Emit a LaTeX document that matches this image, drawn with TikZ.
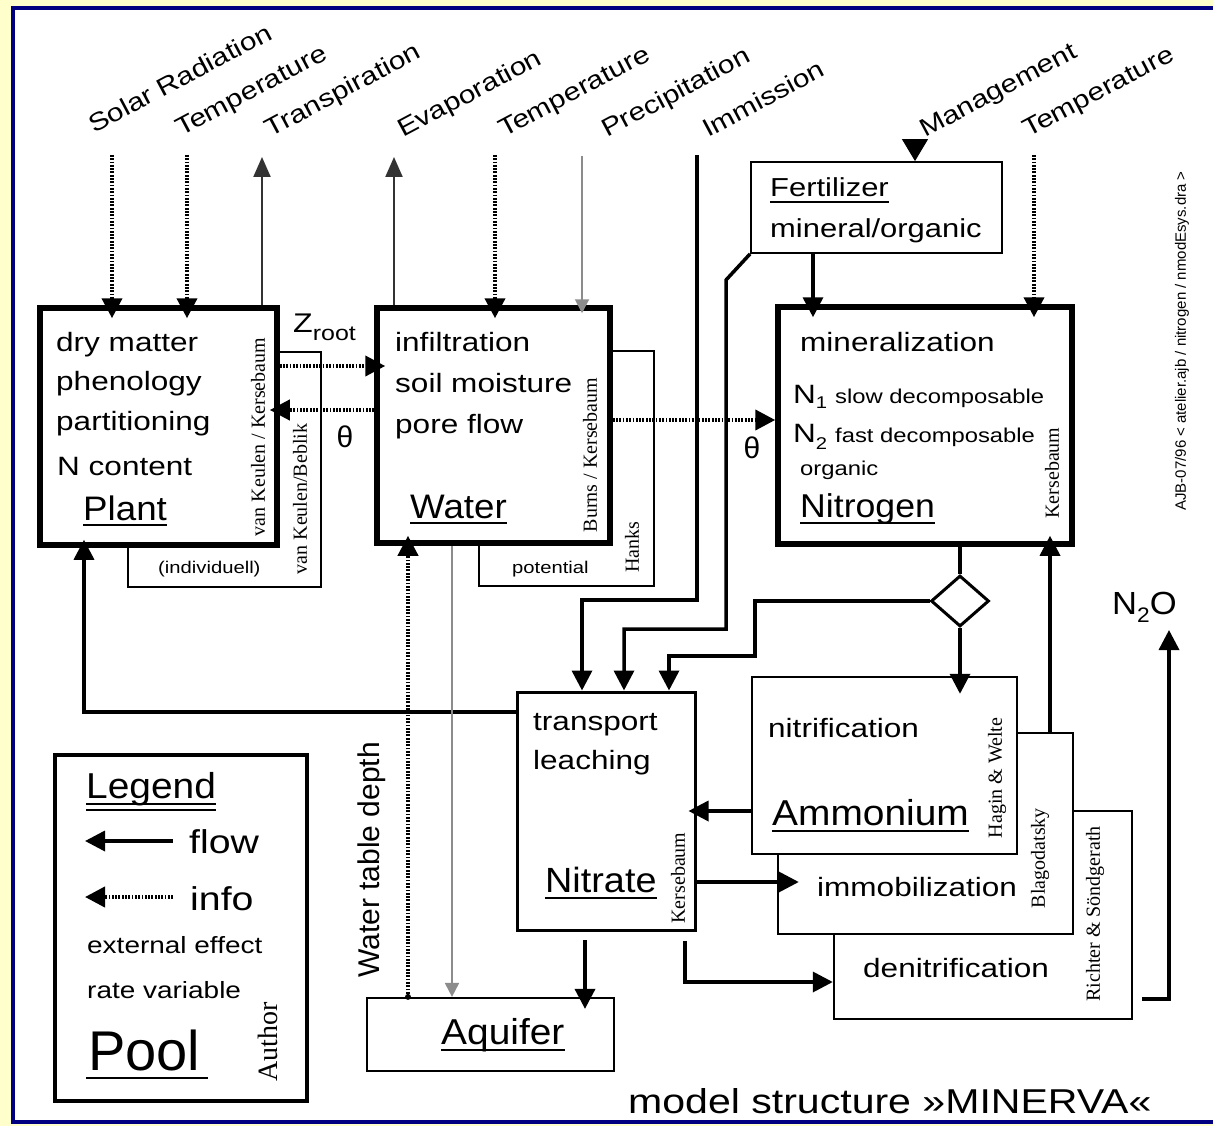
\documentclass[tikz,border=0pt]{standalone}
\usepackage{fontspec}
\setmainfont{Liberation Sans}
\newfontfamily\bodyf[FakeStretch=1.19]{Liberation Sans}
\newfontfamily\poolf[FakeStretch=1.08]{Liberation Sans}
\newfontfamily\authf{Liberation Serif}
\usetikzlibrary{arrows.meta,shapes.geometric,calc}
\definecolor{bgyellow}{HTML}{FFFFCC}
\definecolor{frameblue}{HTML}{000080}
\newcommand{\fsz}[1]{\fontsize{#1}{#1}\selectfont}
\begin{document}
\begin{tikzpicture}[x=1pt,y=-1pt,
 bigbox/.style={draw, line width=5.5pt, fill=white, inner sep=0pt, rectangle},
 medbox/.style={draw, line width=2.4pt, fill=white, inner sep=0pt, rectangle},
 thinbox/.style={draw, line width=1.8pt, fill=white, inner sep=0pt, rectangle},
 flow/.style={line width=3.5pt, -{Triangle[length=20pt,width=20pt]}},
 info/.style={line width=4pt, dash pattern=on 1.8pt off 1.5pt, -{Triangle[length=20pt,width=20pt]}},
 thinarr/.style={line width=2.2pt, black!80, -{Triangle[length=20pt,width=17pt]}},
 grayarr/.style={line width=2pt, black!45, -{Triangle[length=14pt,width=14pt]}},
 txt/.style={inner sep=0pt, anchor=base west, font=\bodyf\fsz{26.5}},
 toplbl/.style={inner sep=0pt, anchor=base west, rotate=28, font=\bodyf\fsz{25}},
 poollbl/.style={inner sep=0pt, anchor=base west, font=\poolf\fsz{35}},
 auth/.style={inner sep=0pt, rotate=90, font=\authf\fsz{20}},
 uline/.style={line width=1.8pt},
]
\clip (0,0) rectangle (1213,1126);
\useasboundingbox (0,0) rectangle (1213,1126);
\fill[bgyellow] (0,0) rectangle (1213,1126);
\draw[frameblue, line width=4pt, fill=white] (13,8) rectangle (1225,1122);

% ---------- boxes ----------
\node[thinbox, minimum width=193pt, minimum height=235pt] (indiv) at (224.5,469.5) {};
\node[bigbox, minimum width=237pt, minimum height=237pt] (plant) at (158.5,426.5) {};
\node[thinbox, minimum width=175pt, minimum height=235pt] (hanksbox) at (566.5,468.5) {};
\node[bigbox, minimum width=233pt, minimum height=235pt] (water) at (493.5,425.5) {};
\node[bigbox, minimum width=294pt, minimum height=237pt] (nitrogen) at (925,425.5) {};
\node[thinbox, minimum width=251pt, minimum height=91pt] (fert) at (876.5,207.5) {};
\node[medbox, line width=3pt, minimum width=178pt, minimum height=238pt] (nitrate) at (606,811) {};
\node[medbox, minimum width=298pt, minimum height=208pt] (denit) at (983,915) {};
\node[medbox, minimum width=295pt, minimum height=201pt] (immob) at (925.5,833.5) {};
\node[medbox, minimum width=265pt, minimum height=177pt] (ammon) at (884.5,765.5) {};
\node[thinbox, line width=2.2pt, minimum width=247pt, minimum height=73pt] (aquifer) at (490.5,1034.5) {};
\node[medbox, line width=3.5pt, minimum width=252pt, minimum height=346pt] (legend) at (181,928) {};
\node[draw, diamond, line width=3pt, fill=white, inner sep=0pt, minimum width=58pt, minimum height=51pt] (dia) at (960,601) {};

% ---------- top labels ----------
\node[toplbl] (lSolar) at (94,134) {Solar Radiation};
\node[toplbl] (lTemp1) at (181,137) {Temperature};
\node[toplbl] (lTransp) at (270,138) {Transpiration};
\node[toplbl] (lEvap) at (403,138) {Evaporation};
\node[toplbl] (lTemp2) at (504,138) {Temperature};
\node[toplbl] (lPrec) at (607,138) {Precipitation};
\node[toplbl] (lImm) at (708,138) {Immission};
\node[toplbl] (lMgmt) at (925,138) {Management};
\node[toplbl] (lTemp3) at (1028,138) {Temperature};

% ---------- top connectors ----------
\coordinate (srT) at (112,155);
\draw[info, shorten >=-13pt] (srT) -- (srT |- plant.north);
\coordinate (t1T) at (187,155);
\draw[info, shorten >=-13pt] (t1T) -- (t1T |- plant.north);
\coordinate (trT) at (262,157);
\draw[thinarr] (trT |- plant.north) -- (trT);
\coordinate (evT) at (394,157);
\draw[thinarr] (evT |- water.north) -- (evT);
\coordinate (t2T) at (495,155);
\draw[info, shorten >=-13pt] (t2T) -- (t2T |- water.north);
\coordinate (prT) at (582,156);
\draw[grayarr, shorten >=-8pt] (prT) -- (prT |- water.north);
\coordinate (imT) at (697,155);
\coordinate (imA) at (697,600);
\coordinate (imB) at (582,600);
\draw[flow] (imT) -- (imA) -- (imB) -- (imB |- nitrate.north);
\coordinate (fA) at (726,280);
\coordinate (fB) at (726,629);
\coordinate (fC) at (624,629);
\draw[flow] (fert.south west) -- (fA) -- (fB) -- (fC) -- (fC |- nitrate.north);
\coordinate (dA) at (755,601);
\coordinate (dB) at (755,656);
\coordinate (dC) at (669,656);
\draw[flow] (dia.west) -- (dA) -- (dB) -- (dC) -- (dC |- nitrate.north);
\coordinate (mgT) at (915,141);
\draw[line width=1pt, -{Triangle[length=22pt,width=26pt]}] (mgT) -- (mgT |- fert.north);
\coordinate (fnX) at (813,253);
\draw[flow, shorten >=-13pt] (fnX) -- (fnX |- nitrogen.north);
\coordinate (t3T) at (1034,155);
\draw[info, shorten >=-13pt] (t3T) -- (t3T |- nitrogen.north);

% ---------- middle connectors ----------
\coordinate (pwY) at (0,366);
\draw[info, shorten >=-11pt] (plant.east |- pwY) -- (water.west |- pwY);
\coordinate (wpY) at (0,410);
\draw[info, shorten >=-10pt] (water.west |- wpY) -- (plant.east |- wpY);
\coordinate (wnY) at (0,420);
\draw[info] (water.east |- wnY) -- (nitrogen.west |- wnY);
\draw[line width=3.5pt] (dia.north |- nitrogen.south) -- (dia.north);
\draw[flow, shorten >=-18pt] (dia.south) -- (dia.south |- ammon.north);
\coordinate (inX) at (1050,0);
\draw[flow, shorten >=-11pt] (inX |- immob.north) -- (inX |- nitrogen.south);
\coordinate (anY) at (0,811);
\draw[flow, shorten >=-8pt] (ammon.west |- anY) -- (nitrate.east |- anY);
\coordinate (niY) at (0,882);
\draw[flow, shorten >=-22pt] (nitrate.east |- niY) -- (immob.west |- niY);
\coordinate (ndA) at (685,941);
\coordinate (ndB) at (685,982);
\draw[flow] (ndA) -- (ndB) -- (denit.west |- ndB);
\coordinate (naX) at (585,940);
\draw[flow, shorten >=-12pt] (naX) -- (naX |- aquifer.north);
\coordinate (npY) at (0,712);
\coordinate (npX) at (84,0);
\draw[flow, shorten >=-8pt] (nitrate.west |- npY) -- (npX |- npY) -- (npX |- plant.south);
\coordinate (awX) at (408,0);
\draw[info, shorten >=-10pt] (awX |- aquifer.north) -- (awX |- water.south);
\fill (awX |- aquifer.north) circle (3pt);
\coordinate (waX) at (452,0);
\draw[grayarr] (waX |- water.south) -- (waX |- aquifer.north);
\coordinate (dnA) at (1142,999);
\coordinate (dnB) at (1169,999);
\coordinate (dnC) at (1169,630);
\draw[flow] (dnA) -- (dnB) -- (dnC);

% ---------- Plant ----------
\node[txt] (p1) at (56,351) {dry matter};
\node[txt] (p2) at (56,390) {phenology};
\node[txt] (p3) at (56,430) {partitioning};
\node[txt] (p4) at (57,475) {N content};
\node[poollbl, font=\poolf\fsz{34}] (plantlbl) at (83,520) {Plant};
\draw[uline] ([yshift=-5pt]plantlbl.base west) -- ([yshift=-5pt]plantlbl.base east);
\node[auth] (a1) at (258,437) {van Keulen / Kersebaum};
\node[auth] (a2) at (300,499) {van Keulen/Beblik};
\node[txt, font=\bodyf\fsz{17}] (indivlbl) at (158,573) {(individuell)};
\node[txt, font=\bodyf\fsz{27}] (zroot) at (293,332) {Z\raisebox{-8pt}{\fsz{21}root}};
\node[inner sep=0pt, font=\fsz{30}] (th1) at (345,437) {θ};

% ---------- Water ----------
\node[txt] (w1) at (395,351) {infiltration};
\node[txt] (w2) at (395,392) {soil moisture};
\node[txt] (w3) at (395,433) {pore flow};
\node[poollbl, font=\poolf\fsz{34}] (waterlbl) at (410,518) {Water};
\draw[uline] ([yshift=-5pt]waterlbl.base west) -- ([yshift=-5pt]waterlbl.base east);
\node[auth] (a3) at (590,455) {Burns / Kersebaum};
\node[auth] (a4) at (632,547) {Hanks};
\node[txt, font=\bodyf\fsz{17}] (potlbl) at (512,573) {potential};
\node[inner sep=0pt, font=\fsz{30}] (th2) at (752,448) {θ};

% ---------- Nitrogen ----------
\node[txt] (n0) at (800,351) {mineralization};
\node[txt] (n1) at (793,403) {N\raisebox{-5pt}{\fsz{17}1}\hspace{8pt}{\fsz{20}slow decomposable}};
\node[txt] (n2) at (793,442) {N\raisebox{-7pt}{\fsz{17}2}\hspace{8pt}{\fsz{20}fast decomposable}};
\node[txt, font=\bodyf\fsz{20}] (n3) at (800,475) {organic};
\node[poollbl, font=\poolf\fsz{33}] (nitrolbl) at (800,517) {Nitrogen};
\draw[uline] ([yshift=-6pt]nitrolbl.base west) -- ([yshift=-6pt]nitrolbl.base east);
\node[auth] (a5) at (1052,473) {Kersebaum};

% ---------- Fertilizer ----------
\node[txt, font=\bodyf\fsz{26}] (fertlbl) at (770,197) {Fertilizer};
\draw[uline] ([yshift=-5pt]fertlbl.base west) -- ([yshift=-5pt]fertlbl.base east);
\node[txt, font=\bodyf\fsz{26}] (fert2) at (770,238) {mineral/organic};

% ---------- Nitrate ----------
\node[txt] (t1) at (533,730) {transport};
\node[txt] (t2) at (533,769) {leaching};
\node[poollbl] (nitratelbl) at (545,892) {Nitrate};
\draw[uline] ([yshift=-6pt]nitratelbl.base west) -- ([yshift=-6pt]nitratelbl.base east);
\node[auth] (a6) at (678,878) {Kersebaum};

% ---------- Ammonium etc ----------
\node[txt] (am1) at (768,737) {nitrification};
\node[poollbl, font=\poolf\fsz{36}] (ammonlbl) at (772,825) {Ammonium};
\draw[uline] ([yshift=-6pt]ammonlbl.base west) -- ([yshift=-6pt]ammonlbl.base east);
\node[auth] (a7) at (997,778) {Hagin \& Welte};
\node[txt] (im1) at (817,896) {immobilization};
\node[auth] (a8) at (1040,858) {Blagodatsky};
\node[txt] (de1) at (863,977) {denitrification};
\node[auth] (a9) at (1095,914) {Richter \& Söndgerath};
\node[txt, font=\poolf\fsz{32}] (n2o) at (1112,614) {N\raisebox{-8pt}{\fsz{21}2}O};

% ---------- Aquifer ----------
\node[poollbl, font=\poolf\fsz{36}] (aquiferlbl) at (441,1044) {Aquifer};
\draw[uline] ([yshift=-6pt]aquiferlbl.base west) -- ([yshift=-6pt]aquiferlbl.base east);
\node[inner sep=0pt, rotate=90, font=\fsz{30}] (wtd) at (372,860) {Water table depth};

% ---------- Legend ----------
\node[poollbl, font=\poolf\fsz{36}] (leglbl) at (86,798) {Legend};
\draw[uline] ([yshift=-6pt]leglbl.base west) -- ([yshift=-6pt]leglbl.base east);
\draw[uline] ([yshift=-12pt]leglbl.base west) -- ([yshift=-12pt]leglbl.base east);
\coordinate (lfA) at (173,841);
\coordinate (lfB) at (85,841);
\draw[flow] (lfA) -- (lfB);
\node[txt, font=\bodyf\fsz{33}] (flowlbl) at (189,853) {flow};
\coordinate (liA) at (173,897);
\coordinate (liB) at (85,897);
\draw[info] (liA) -- (liB);
\node[txt, font=\bodyf\fsz{33}] (infolbl) at (190,910) {info};
\node[txt, font=\bodyf\fsz{23.5}] (extlbl) at (87,953) {external effect};
\node[txt, font=\bodyf\fsz{23.5}] (ratelbl) at (87,998) {rate variable};
\node[inner sep=0pt, anchor=base west, font=\fsz{56}] (poollbl) at (88,1070) {Pool};
\draw[uline] (86,1078) -- (208,1078);
\node[auth, font=\authf\fsz{28}] (authlbl) at (268,1042) {Author};

% ---------- misc ----------
\node[inner sep=0pt, rotate=90, font=\fsz{15}] (ajb) at (1182,341) {AJB-07/96 < atelier.ajb / nitrogen / nmodEsys.dra >};
\node[txt, font=\bodyf\fsz{34.5}] (title) at (628,1113) {model structure »MINERVA«};
\end{tikzpicture}
\end{document}
